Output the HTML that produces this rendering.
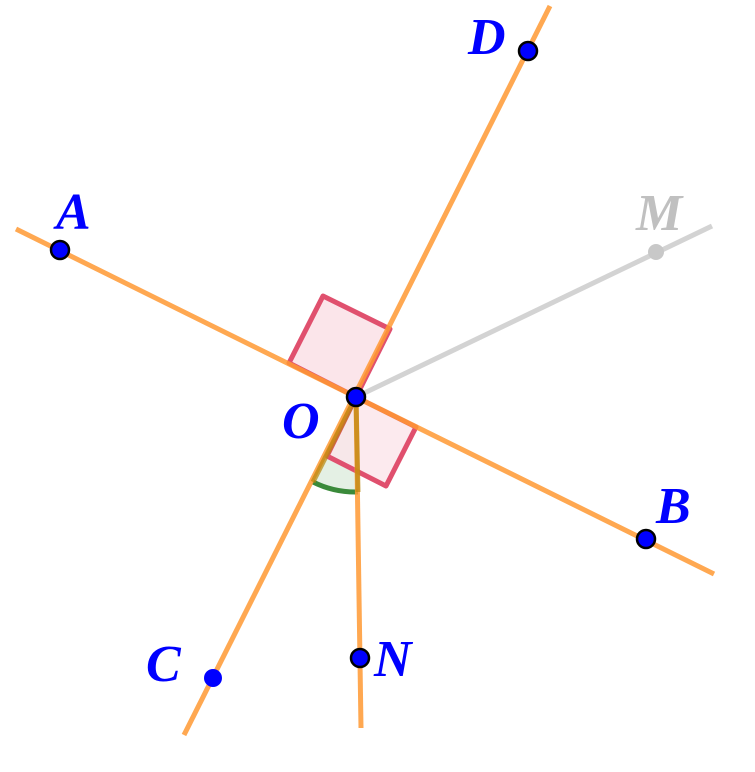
<!DOCTYPE html>
<html><head><meta charset="utf-8"><style>
html,body{margin:0;padding:0;background:#fff;}
svg{display:block}
text{font-family:"Liberation Serif",serif;font-style:italic;font-weight:bold;font-size:52px;fill:#0000ff;}
</style></head><body>
<svg width="755" height="772" viewBox="0 0 755 772" xmlns="http://www.w3.org/2000/svg">
<path d="M356,397 L313,482 A95,95 0 0 0 358,492 Z" fill="#e4f0e4" stroke="none"/>
<path d="M313,482 A95,95 0 0 0 358,492" fill="none" stroke="#3a8a3a" stroke-width="5"/>
<polygon points="356,397 289,363 323,296 390,329" fill="#fbe5ea" stroke="#e0506e" stroke-width="5" stroke-linejoin="round"/>
<polygon points="356,397 416,427 386,486 327,456" fill="#fbe5ea" stroke="#e0506e" stroke-width="5" stroke-linejoin="round" fill-opacity="0.8"/>
<line x1="356" y1="397" x2="712" y2="226" stroke="#d3d3d3" stroke-width="5"/>
<line x1="16" y1="229" x2="714" y2="574" stroke="#ff9933" stroke-opacity="0.85" stroke-width="5"/>
<line x1="184" y1="735" x2="550" y2="6" stroke="#ff9933" stroke-opacity="0.85" stroke-width="5"/>
<line x1="356" y1="397" x2="361" y2="728" stroke="#ff9933" stroke-opacity="0.85" stroke-width="5"/>
<line x1="356" y1="397" x2="313" y2="482" stroke="#b8860b" stroke-opacity="0.7" stroke-width="5"/>
<line x1="356" y1="397" x2="358" y2="492" stroke="#b8860b" stroke-opacity="0.7" stroke-width="5"/>
<circle cx="656" cy="252" r="8" fill="#c8c8c8"/>
<circle cx="528" cy="51" r="9" fill="#0000ff" stroke="#000" stroke-width="2.5"/>
<circle cx="60" cy="250" r="9" fill="#0000ff" stroke="#000" stroke-width="2.5"/>
<circle cx="356" cy="397" r="9" fill="#0000ff" stroke="#000" stroke-width="2.5"/>
<circle cx="646" cy="539" r="9" fill="#0000ff" stroke="#000" stroke-width="2.5"/>
<circle cx="360" cy="658" r="9" fill="#0000ff" stroke="#000" stroke-width="2.5"/>
<circle cx="213" cy="678" r="9" fill="#0000ff"/>
<text x="468" y="54">D</text>
<text x="56" y="229">A</text>
<text x="636" y="230" style="fill:#c0c0c0">M</text>
<text x="282" y="438">O</text>
<text x="656" y="523">B</text>
<text x="146" y="681">C</text>
<text x="374" y="676">N</text>
</svg>
</body></html>
